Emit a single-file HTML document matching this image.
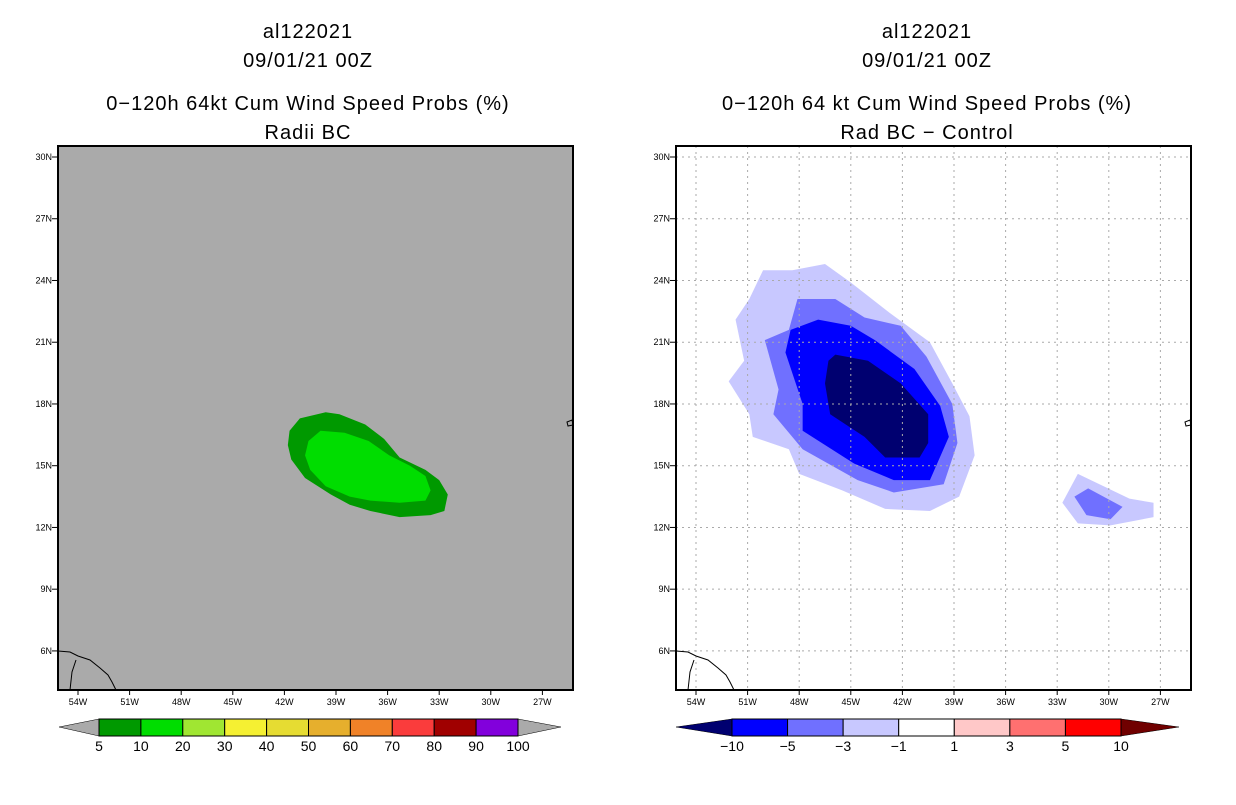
<!DOCTYPE html>
<html><head><meta charset="utf-8"><style>
body{margin:0;background:#fff;width:1236px;height:800px;overflow:hidden}
svg text{font-family:"Liberation Sans",sans-serif}
</style></head><body>
<svg id="s" width="1236" height="800" xmlns="http://www.w3.org/2000/svg"></svg>
<script>
const latTicks=[30,27,24,21,18,15,12,9,6];
const lonTicks=[54,51,48,45,42,39,36,33,30,27];
const leftLevels=['5','10','20','30','40','50','60','70','80','90','100'];
const leftColors=['#009900','#00dd00','#a0e632','#f5f032','#e6dc32','#e6af2d','#f08228','#fa3c3c','#a00000','#8200dc'];
const rightLevels=['\u221210','\u22125','\u22123','\u22121','1','3','5','10'];
const rightColors=['#0000ff','#7070ff','#c8c8ff','#ffffff','#ffc8c8','#ff7070','#ff0000'];
// polygons as [lonW, latN]
const leftOuter=[[41.7,16.7],[41.1,17.3],[39.6,17.6],[38.8,17.5],[37.3,17.0],[36.2,16.3],[35.3,15.4],[33.8,14.8],[33.0,14.3],[32.5,13.6],[32.7,12.8],[33.5,12.6],[35.3,12.5],[37.0,12.8],[38.2,13.1],[39.3,13.6],[40.8,14.4],[41.6,15.3],[41.8,16.0]];
const leftInner=[[40.6,16.2],[39.9,16.7],[38.5,16.6],[37.1,16.2],[35.9,15.5],[34.7,15.0],[33.8,14.5],[33.5,13.8],[33.8,13.3],[35.3,13.2],[37.0,13.3],[38.2,13.5],[39.6,14.0],[40.5,14.8],[40.8,15.5]];
const rLight=[[50.1,24.5],[48.4,24.5],[46.5,24.8],[45.0,23.9],[42.7,22.4],[40.4,21.0],[39.1,19.0],[38.1,17.4],[37.8,15.5],[38.7,13.5],[40.4,12.8],[43.0,12.9],[45.5,13.8],[48.0,14.6],[48.6,15.8],[50.7,16.4],[50.9,17.5],[52.1,19.1],[51.2,20.1],[51.7,22.1],[50.9,23.1]];
const rMed=[[48.1,23.1],[45.9,23.1],[44.2,22.2],[42.1,21.8],[40.6,20.3],[39.1,18.0],[38.8,16.1],[39.6,14.1],[42.5,13.7],[44.6,14.3],[47.8,15.8],[49.5,17.5],[49.2,18.7],[50.0,21.1],[48.6,21.6]];
const rBlue=[[46.9,22.1],[45.0,21.8],[43.6,21.1],[41.3,19.7],[39.8,17.9],[39.3,16.4],[40.4,14.3],[42.5,14.3],[44.8,15.1],[47.8,16.7],[47.8,18.0],[48.8,20.5],[48.5,21.6]];
const rNavy=[[45.9,20.4],[44.0,20.1],[42.1,19.0],[40.5,17.5],[40.5,16.1],[41.0,15.4],[43.0,15.4],[44.2,16.4],[46.2,17.5],[46.5,19.0],[46.3,20.1]];
const rSmallLight=[[32.7,13.2],[31.8,14.6],[28.8,13.4],[27.4,13.2],[27.4,12.5],[29.9,12.1],[31.8,12.2]];
const rSmallMed=[[32.0,13.5],[31.2,13.9],[29.2,13.0],[29.9,12.4],[31.3,12.6]];

const S=document.getElementById('s');const NS='http://www.w3.org/2000/svg';
function mk(t,a,p){const e=document.createElementNS(NS,t);for(const k in a)e.setAttribute(k,a[k]);(p||S).appendChild(e);return e;}
function txt(x,y,s,size,anchor,p){const e=mk('text',{x:x,y:y,'font-size':size,'text-anchor':anchor||'middle',fill:'#000'},p);e.textContent=s;return e;}
const Y=lat=>157+(30-lat)*20.58;
function panel(off,name){
  const X=lw=>78+off+(54-lw)*17.2;
  const g=mk('g',{});
  
  
  return {g,X};
}
function poly(pts,X,fill,g,nm){const e=mk('polygon',{points:pts.map(p=>X(p[0])+','+Y(p[1])).join(' '),fill:fill},g);

}
function axes(P,off,grid){
  const g=P.g,X=P.X;
  latTicks.forEach(l=>{
    if(grid)mk('line',{x1:58+off,x2:573+off,y1:Y(l),y2:Y(l),stroke:'#aaa','stroke-dasharray':'2,4'},g);
    mk('line',{x1:52+off,x2:58+off,y1:Y(l),y2:Y(l),stroke:'#000'},g);
    const t=txt(52+off,Y(l)+3,l+'N',9,'end',g);
    
    
  });
  lonTicks.forEach(l=>{
    if(grid)mk('line',{x1:X(l),x2:X(l),y1:146,y2:690,stroke:'#aaa','stroke-dasharray':'2,4'},g);
    mk('line',{x1:X(l),x2:X(l),y1:690,y2:695,stroke:'#000'},g);
    const t=txt(X(l),705,l+'W',9,'middle',g);
    
    
  });
  // coastline
  mk('path',{d:`M${58+off},651 L${70+off},652 L${78+off},656 L${90+off},660 L${100+off},668 L${108+off},675 L${112+off},682 L${116+off},690 M${76+off},660 L${72+off},672 L${70+off},690`,fill:'none',stroke:'#000','stroke-width':1},g);
  mk('path',{d:`M${567+off},422 l5,-2 l1,5 l-5,1z`,fill:'none',stroke:'#000'},g);
  mk('rect',{x:58+off,y:146,width:515,height:544,fill:'none',stroke:'#000','stroke-width':2},g);
}
function titles(cx,l3,l4,nm){
  [['al122021',38],['09/01/21 00Z',67],[l3,110],[l4,139]].forEach((a,i)=>{
    const t=txt(cx,a[1],a[0],20,'middle');
    t.setAttribute('letter-spacing','1');
    
    
  });
}
// LEFT
titles(308,'0\u2212120h 64kt Cum Wind Speed Probs (%)','Radii BC','left');
const L=panel(0,'left-map');
mk('rect',{x:58,y:146,width:515,height:544,fill:'#aaaaaa'},L.g);
poly(leftOuter,L.X,'#009900',L.g,'prob-5-10');
poly(leftInner,L.X,'#00dd00',L.g,'prob-10-20');
axes(L,0,false);
// RIGHT
titles(927,'0\u2212120h 64 kt Cum Wind Speed Probs (%)','Rad BC \u2212 Control','right');
const R=panel(618,'right-map');
mk('rect',{x:676,y:146,width:515,height:544,fill:'#fff'},R.g);
poly(rLight,R.X,'#c8c8ff',R.g,'diff-light');
poly(rMed,R.X,'#7070ff',R.g,'diff-med');
poly(rBlue,R.X,'#0000ff',R.g,'diff-blue');
poly(rNavy,R.X,'#000070',R.g,'diff-navy');
poly(rSmallLight,R.X,'#c8c8ff',R.g,'diff-small-light');
poly(rSmallMed,R.X,'#7070ff',R.g,'diff-small-med');
axes(R,618,true);
// colorbars
function cbar(x0,x1,tipL,tipR,cols,labs,lc,rc,nm){
  const g=mk('g',{});
  
  
  const w=(x1-x0)/cols.length;
  mk('polygon',{points:`${tipL},727 ${x0},719 ${x0},736`,fill:lc,stroke:'#000','stroke-width':0.5},g);
  mk('polygon',{points:`${tipR},727 ${x1},719 ${x1},736`,fill:rc,stroke:'#000','stroke-width':0.5},g);
  cols.forEach((c,i)=>mk('rect',{x:x0+i*w,y:719,width:w,height:17,fill:c,stroke:'#000','stroke-width':1},g));
  labs.forEach((s,i)=>txt(x0+(i-(labs.length>cols.length+1?0:0))*w-(labs.length===cols.length+1?0:0),751,s,14,'middle',g));
}
cbar(99,518,59,561,leftColors,['10','20','30','40','50','60','70','80','90'].length?[]:[], '#aaaaaa','#aaaaaa','left-colorbar');
// left labels at boundaries (11 labels over 11 boundaries)
leftLevels.forEach((s,i)=>{const t=txt(99+i*41.9,751,s,14);});
cbar(732,1121,676,1179,rightColors,[],'#000070','#700000','right-colorbar');
rightLevels.forEach((s,i)=>{const t=txt(732+i*(389/7),751,s,14);});
</script>
</body></html>
